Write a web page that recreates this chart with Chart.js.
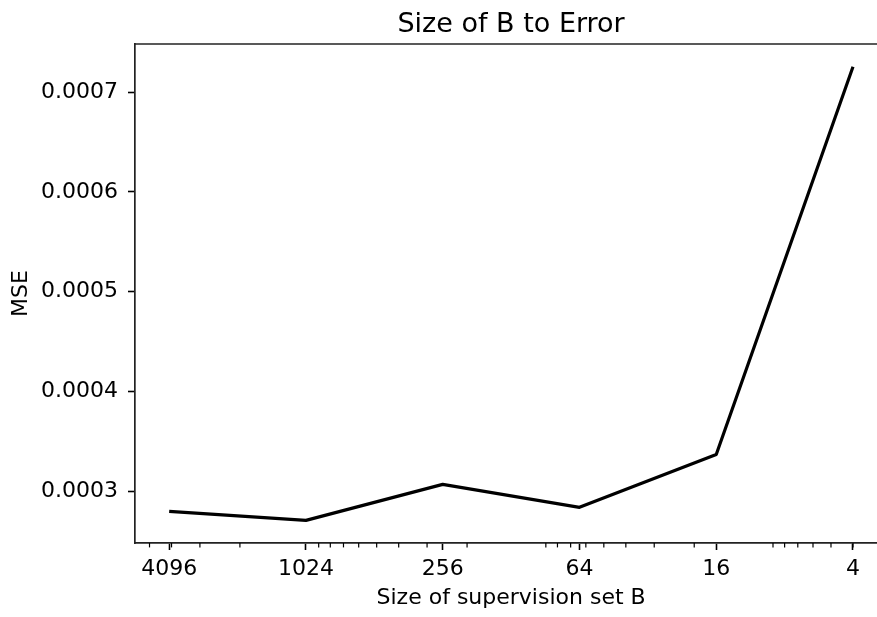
<!DOCTYPE html>
<html>
<head>
<meta charset="utf-8">
<script src="https://cdn.jsdelivr.net/npm/chart.js@4/dist/chart.umd.min.js"></script>
<style>
  html, body { margin: 0; padding: 0; background: #fff; overflow: hidden; }
  canvas { display: block; }
</style>
</head>
<body>
<canvas id="errChart" width="877" height="617"></canvas>
<script>
// data
const setSizes = [4096, 1024, 256, 64, 16, 4];
const mseValues = [0.000280, 0.000271, 0.000307, 0.000284, 0.000337, 0.0007255];
const yTicks = [0.0003, 0.0004, 0.0005, 0.0006, 0.0007];
const xTicks = [4096, 1024, 256, 64, 16, 4];
const titleText = 'Size of B to Error';
const xLabelText = 'Size of supervision set B';

// matplotlib-style minor ticks (2..9 x 10^n)
const minorTicks = [];
for (let n = 0; n <= 3; n++) {
    for (let s = 2; s <= 9; s++) minorTicks.push(s * Math.pow(10, n));
}

const spines = {
    id: 'spines',
    afterDraw(chart) {
        const ctx = chart.ctx;
        const area = chart.chartArea;
        const xs = chart.scales.x;
        ctx.save();
        ctx.strokeStyle = '#222';
        ctx.lineWidth = 1.7;
        ctx.beginPath();
        ctx.moveTo(area.left, area.top);
        ctx.lineTo(area.right, area.top);
        ctx.stroke();
        // minor ticks
        ctx.strokeStyle = '#000';
        ctx.lineWidth = 1.2;
        minorTicks.forEach(v => {
            const px = xs.getPixelForValue(v);
            if (px < area.left || px > area.right) return;
            ctx.beginPath();
            ctx.moveTo(px, area.bottom);
            ctx.lineTo(px, area.bottom + 4.4);
            ctx.stroke();
        });
        // the axes run past the crop on the right; centre texts on the
        // full axes, which is the log-midpoint 2^7
        const cx = xs.getPixelForValue(Math.pow(2, 7));
        ctx.fillStyle = '#000';
        ctx.textAlign = 'center';
        ctx.textBaseline = 'alphabetic';
        ctx.font = '27px "DejaVu Sans", sans-serif';
        ctx.fillText(titleText, cx, 32);
        ctx.font = '22px "DejaVu Sans", sans-serif';
        ctx.fillText(xLabelText, cx, 604);
        ctx.restore();
    }
};

Chart.defaults.font.family = '"DejaVu Sans", sans-serif';
Chart.defaults.color = '#000';

const ctx = document.getElementById('errChart').getContext('2d');
new Chart(ctx, {
    type: 'line',
    data: {
        datasets: [{
            label: 'MSE',
            data: setSizes.map((s, i) => ({ x: s, y: mseValues[i] })),
            borderColor: '#000',
            borderWidth: 3.2,
            borderJoinStyle: 'round',
            pointRadius: 0,
            tension: 0,
            fill: false
        }]
    },
    options: {
        responsive: false,
        animation: false,
        layout: { padding: { top: 44, right: 0, bottom: 0, left: 0 } },
        plugins: {
            legend: { display: false },
            tooltip: { enabled: false },
            title: { display: false }
        },
        scales: {
            x: {
                type: 'logarithmic',
                reverse: true,
                min: Math.pow(2, 1.649),
                max: Math.pow(2, 12.5),
                afterBuildTicks: scale => {
                    scale.ticks = xTicks.map(v => ({ value: v }));
                },
                afterFit: scale => { scale.height = 74; },
                ticks: {
                    autoSkip: false,
                    maxRotation: 0,
                    padding: 6.2,
                    font: { size: 22 },
                    callback: v => String(v)
                },
                grid: {
                    drawOnChartArea: false,
                    tickLength: 7,
                    tickWidth: 1.6,
                    tickColor: '#000'
                },
                border: { display: true, color: '#222', width: 1.7 }
            },
            y: {
                min: 0.0002483,
                max: 0.0007482,
                afterBuildTicks: scale => {
                    scale.ticks = yTicks.map(v => ({ value: v }));
                },
                afterFit: scale => { scale.width = 135; },
                ticks: {
                    padding: 10,
                    font: { size: 22 },
                    callback: v => v.toFixed(4)
                },
                grid: {
                    drawOnChartArea: false,
                    tickLength: 7,
                    tickWidth: 1.6,
                    tickColor: '#000'
                },
                border: { display: true, color: '#222', width: 1.7 },
                title: {
                    display: true,
                    text: 'MSE',
                    font: { size: 22 },
                    padding: { top: 7.8, bottom: 0 }
                }
            }
        }
    },
    plugins: [spines]
});
</script>
</body>
</html>
